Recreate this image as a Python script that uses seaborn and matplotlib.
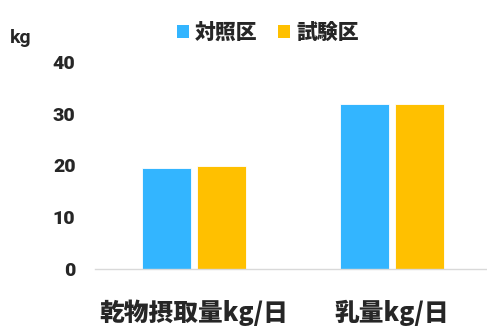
import matplotlib
matplotlib.use("Agg")
import matplotlib.pyplot as plt
import seaborn as sns
import pandas as pd
from matplotlib.patches import Patch

categories = ["乾物摂取量kg/日", "乳量kg/日"]
series_names = ["対照区", "試験区"]
control = [19.5, 31.9]
trial = [19.9, 31.9]
yticks = [0, 10, 20, 30, 40]
colors = ["#33B5FF", "#FFC000"]

sns.set_theme(style="white")
plt.rcParams['font.family'] = ['Noto Sans CJK JP', 'DejaVu Sans']

df = pd.DataFrame({
    "cat": categories * 2,
    "series": [series_names[0]] * 2 + [series_names[1]] * 2,
    "val": control + trial,
})

fig = plt.figure(figsize=(4.87, 3.33), dpi=100)
ax = fig.add_axes([95/487, 1 - 269/333, 1 - 95/487, (269 - 62)/333])
sns.barplot(data=df, x="cat", y="val", hue="series", palette=colors, saturation=1,
            width=0.56, gap=0.11, ax=ax, legend=False, edgecolor="none")
for p in ax.patches:
    p.set_edgecolor("#ffffff")
    p.set_linewidth(0.6)

ax.set_ylim(0, 40)
ax.set_xlim(-0.5, 1.48)
ax.set_yticks(yticks)
ax.set_yticklabels([str(t) for t in yticks], fontsize=14, fontweight="black",
                   family=['Roboto', 'DejaVu Sans'])
ax.tick_params(axis="y", length=0, pad=14)
ax.tick_params(axis="x", length=0, pad=22)
ax.set_xticks([0, 1])
ax.set_xticklabels(categories, fontsize=17.8, fontweight="black")
ax.set_xlabel("")
ax.set_ylabel("")
for s in ["top", "right", "left"]:
    ax.spines[s].set_visible(False)
ax.spines["bottom"].set_color("#d9d9d9")
ax.spines["bottom"].set_linewidth(1)

fig.text(10/487, 1 - 38/333, "kg", fontsize=14, fontweight="bold", va="center", ha="left",
         family=['Roboto', 'DejaVu Sans'])

handles = [Patch(facecolor=c, edgecolor="none") for c in colors]
fig.legend(handles, series_names, loc="center", bbox_to_anchor=(268/487, 1 - 33/333),
           ncol=2, frameon=False, prop={"size": 15, "weight": "black"},
           handlelength=0.55, handleheight=0.55, handletextpad=0.3, columnspacing=1.0)

fig.savefig("out.png", dpi=100)
